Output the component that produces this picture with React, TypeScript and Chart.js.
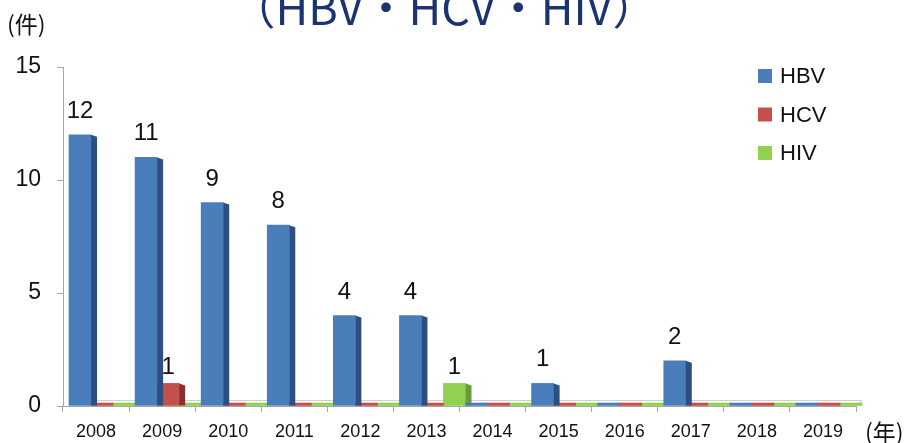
import React, { useEffect, useRef } from "react";
import { Chart, registerables } from "chart.js";
Chart.register(...registerables);

const years = ["2008", "2009", "2010", "2011", "2012", "2013", "2014", "2015", "2016", "2017", "2018", "2019"];
const hbv = [12, 11, 9, 8, 4, 4, 0, 1, 0, 2, 0, 0];
const hcv = [0, 1, 0, 0, 0, 0, 0, 0, 0, 0, 0, 0];
const hiv = [0, 0, 0, 0, 0, 1, 0, 0, 0, 0, 0, 0];
const seriesNames = ["HBV", "HCV", "HIV"];
const yMin = 0;
const yMax = 15;
const yStep = 5;
const titleText = "（HBV・HCV・HIV）";
const yUnit = "(件)";
const xUnit = "(年)";

const FONT = "'Liberation Sans', Arial, sans-serif";
const CJK = "'Noto Sans CJK JP', 'Noto Sans', sans-serif";
const frontColors = ["#4a7ebb", "#c4504d", "#92d050"];
const sideColors = ["#2c4f7f", "#8a2f2c", "#6a9a35"];
const labelGap = [17, 9, 9];
const SHIFT = 6;

const decoPlugin = {
  id: "deco",
  beforeDatasetsDraw(chart: any) {
    const { ctx, chartArea: a } = chart;
    ctx.save();
    ctx.strokeStyle = "#cfcfcf";
    ctx.lineWidth = 1;
    ctx.beginPath();
    ctx.moveTo(a.left + 6, a.bottom - 5.5);
    ctx.lineTo(a.right + 6, a.bottom - 5.5);
    ctx.lineTo(a.right, a.bottom + 0.5);
    ctx.stroke();
    ctx.restore();
    ctx.save();
    ctx.translate(SHIFT, 0);
  },
  afterDatasetDraw(chart: any, args: any) {
    const ctx = chart.ctx;
    const ds = chart.data.datasets[args.index];
    args.meta.data.forEach((el: any, i: number) => {
      const v = ds.data[i];
      if (!v) return;
      const { x, y, base, width } = el.getProps(["x", "y", "base", "width"], true);
      const xr = x + width / 2;
      ctx.fillStyle = sideColors[args.index];
      ctx.beginPath();
      ctx.moveTo(xr, y);
      ctx.lineTo(xr + 6, y + 2);
      ctx.lineTo(xr + 6, base);
      ctx.lineTo(xr, base);
      ctx.closePath();
      ctx.fill();
    });
  },
  afterDatasetsDraw(chart: any) {
    const ctx = chart.ctx;
    ctx.fillStyle = "#111";
    ctx.font = `24px ${FONT}`;
    ctx.textAlign = "center";
    ctx.textBaseline = "alphabetic";
    chart.data.datasets.forEach((ds: any, di: number) => {
      const meta = chart.getDatasetMeta(di);
      meta.data.forEach((el: any, i: number) => {
        const v = ds.data[i];
        if (!v) return;
        ctx.fillText(String(v), el.x, el.y - labelGap[di]);
      });
    });
    ctx.restore();
  },
  afterDraw(chart: any) {
    const ctx = chart.ctx;
    ctx.save();
    // title (cut off at top)
    ctx.fillStyle = "#1b3370";
    ctx.font = `45px ${CJK}`;
    ctx.textAlign = "center";
    ctx.textBaseline = "alphabetic";
    ctx.fillText(titleText, 444, 25);
    // units
    ctx.fillStyle = "#111";
    ctx.font = `23px ${CJK}`;
    ctx.textAlign = "left";
    ctx.textBaseline = "middle";
    ctx.fillText(yUnit, 7, 24);
    ctx.fillText(xUnit, 865, 432);
    // legend
    chart.data.datasets.forEach((ds: any, i: number) => {
      const cy = 76 + i * 38.5;
      ctx.fillStyle = frontColors[i];
      ctx.fillRect(758, cy - 7, 14, 14);
      ctx.fillStyle = "#111";
      ctx.font = `22px ${FONT}`;
      ctx.textAlign = "left";
      ctx.textBaseline = "middle";
      ctx.fillText(ds.label, 780, cy + 1);
    });
    ctx.restore();
  },
};

export default function App() {
  const ref = useRef<HTMLCanvasElement>(null);
  useEffect(() => {
    if (!ref.current) return;
    const mk = (label: string, data: number[], i: number) => ({
      label,
      data,
      backgroundColor: frontColors[i],
      borderWidth: 0,
      minBarLength: 3,
      categoryPercentage: 1,
      barPercentage: 1,
      clip: false as any,
    });
    const chart = new Chart(ref.current, {
      type: "bar",
      data: {
        labels: years,
        datasets: [mk(seriesNames[0], hbv, 0), mk(seriesNames[1], hcv, 1), mk(seriesNames[2], hiv, 2)],
      },
      options: {
        animation: false,
        responsive: false,
        maintainAspectRatio: false,
        layout: { padding: { left: 0, right: 53, top: 67, bottom: 0 } },
        plugins: { legend: { display: false }, tooltip: { enabled: false }, title: { display: false } },
        scales: {
          x: {
            grid: { drawOnChartArea: false, tickLength: 6, color: "#a6a6a6", offset: true },
            border: { color: "#a6a6a6" },
            ticks: { color: "#111", font: { family: FONT, size: 18 }, padding: 9, maxRotation: 0 },
            afterFit: (s: any) => { s.height = 37; },
          },
          y: {
            min: yMin,
            max: yMax,
            grid: { drawOnChartArea: false, tickLength: 6, color: "#a6a6a6" },
            border: { color: "#a6a6a6" },
            ticks: { stepSize: yStep, color: "#111", font: { family: FONT, size: 23 }, padding: 16 },
            afterFit: (s: any) => { s.width = 63; },
          },
        },
      },
      plugins: [decoPlugin],
    });
    return () => chart.destroy();
  }, []);
  return (
    <div style={{ position: "absolute", left: 0, top: 0, width: 909, height: 443, background: "#fff" }}>
      <canvas ref={ref} width={909} height={443} style={{ width: 909, height: 443 }} />
    </div>
  );
}
